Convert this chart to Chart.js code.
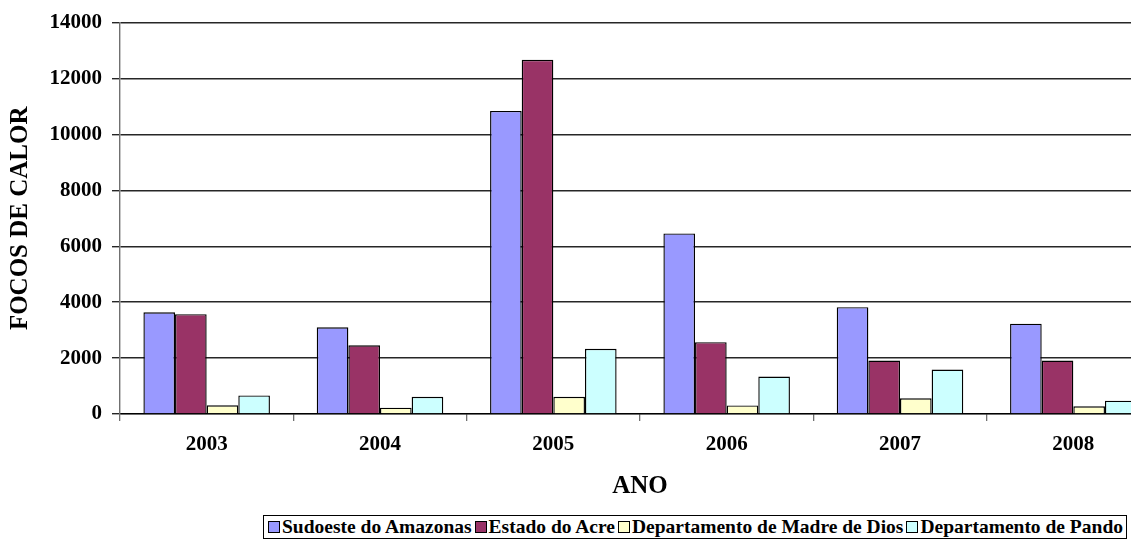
<!DOCTYPE html>
<html>
<head>
<meta charset="utf-8">
<script src="https://cdn.jsdelivr.net/npm/chart.js@4"></script>
<style>
  html, body { margin: 0; padding: 0; background: #fff; overflow: hidden; width: 1131px; height: 541px; }
  #wrap { position: absolute; left: 0; top: 0; width: 1160px; height: 505px; }
  #legend { position: absolute; left: 263px; top: 515px; width: 864px; height: 24px; box-sizing: border-box;
    border: 1px solid #000; display: flex; align-items: center; justify-content: space-between; padding: 0 3px 0 4px;
    font-family: "Liberation Serif", "Times New Roman", serif; font-weight: bold; font-size: 19.5px; color: #000; white-space: nowrap; }
  .item { display: inline-flex; align-items: center; }
  .sw { display: inline-block; width: 10px; height: 10px; border: 1px solid #000; margin-right: 2px; }
</style>
</head>
<body>
<div id="wrap"><canvas id="c" width="1160" height="505"></canvas></div>
<div id="legend"></div>
<script>
const categories = ['2003', '2004', '2005', '2006', '2007', '2008'];
const seriesNames = ['Sudoeste do Amazonas', 'Estado do Acre', 'Departamento de Madre de Dios', 'Departamento de Pando'];
const sudoesteAmazonas = [3640, 3100, 10840, 6460, 3820, 3230];
const estadoAcre = [3570, 2460, 12670, 2570, 1910, 1910];
const madreDeDios = [310, 225, 615, 305, 560, 275];
const pando = [665, 615, 2330, 1340, 1590, 475];
const yMin = 0, yMax = 14000, yStep = 2000;
const colors = ['#9999FF', '#993366', '#FFFFCC', '#CCFFFF'];

const font = "'Liberation Serif', 'Times New Roman', serif";
const values = [sudoesteAmazonas, estadoAcre, madreDeDios, pando];

const datasets = seriesNames.map((n, i) => ({
  label: n,
  data: values[i],
  backgroundColor: colors[i],
  borderColor: '#000000',
  borderWidth: 1.4,
  borderSkipped: 'bottom',
  categoryPercentage: 0.73,
  barPercentage: 1.0
}));

new Chart(document.getElementById('c'), {
  type: 'bar',
  data: { labels: categories, datasets },
  options: {
    responsive: false,
    animation: false,
    layout: { padding: { top: 21, left: 0, right: 0, bottom: 0 } },
    plugins: { legend: { display: false }, tooltip: { enabled: false } },
    scales: {
      x: {
        grid: { offset: true, display: true, drawOnChartArea: false, drawTicks: true, tickLength: 7, color: '#707070', lineWidth: 1.3 },
        border: { display: true, color: '#000000', width: 1.3 },
        ticks: { color: '#000', font: { family: font, size: 21, weight: 'bold' }, padding: 11 },
        title: { display: true, text: 'ANO', color: '#000', font: { family: font, size: 25, weight: 'bold' }, padding: { top: 0, bottom: 3 } },
        afterFit: s => { s.height = 91; }
      },
      y: {
        min: yMin, max: yMax,
        ticks: { stepSize: yStep, color: '#000', font: { family: font, size: 21, weight: 'bold' }, padding: 10,
          callback: v => String(v) },
        grid: { display: true, drawOnChartArea: true, color: '#262626', tickColor: '#262626', tickLength: 8, lineWidth: 1.4 },
        border: { display: true, color: '#707070', width: 1.4 },
        title: { display: true, text: 'FOCOS DE CALOR', color: '#000', font: { family: font, size: 25, weight: 'bold' }, padding: { top: 6, bottom: 0 } },
        afterFit: s => { s.width = 120; }
      }
    }
  }
});

const leg = document.getElementById('legend');
seriesNames.forEach((n, i) => {
  const it = document.createElement('span');
  it.className = 'item';
  const sw = document.createElement('span');
  sw.className = 'sw';
  sw.style.background = colors[i];
  it.appendChild(sw);
  it.appendChild(document.createTextNode(n));
  leg.appendChild(it);
});
</script>
</body>
</html>
